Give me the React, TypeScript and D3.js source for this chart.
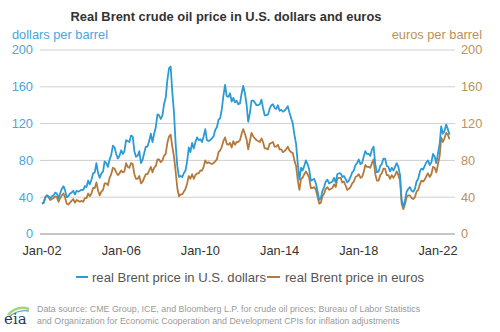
import React from "react";
import * as d3 from "d3";

const title = "Real Brent crude oil price in U.S. dollars and euros";
const leftAxisTitle = "dollars per barrel";
const rightAxisTitle = "euros per barrel";
const yTicks = [0, 40, 80, 120, 160, 200];
const xTickYears = [2002, 2006, 2010, 2014, 2018, 2022];
const xTickLabels = ["Jan-02", "Jan-06", "Jan-10", "Jan-14", "Jan-18", "Jan-22"];
const seriesNames = ["real Brent price in U.S. dollars", "real Brent price in euros"];
const sourceLines = [
  "Data source: CME Group, ICE, and Bloomberg L.P. for crude oil prices; Bureau of Labor Statistics",
  "and Organization for Economic Cooperation and Development CPIs for inflation adjustments",
];

// monthly, Jan 2002 .. Aug 2022
const usd = [
  33, 34, 39, 42, 41, 39, 41, 42, 45, 44, 39, 44,
  49, 52, 48, 40, 41, 44, 45, 47, 43, 47, 46, 47,
  48, 48, 52, 51, 58, 54, 59, 66, 67, 77, 66, 61,
  66, 68, 79, 77, 73, 81, 86, 96, 94, 87, 82, 85,
  91, 87, 90, 102, 101, 100, 107, 106, 90, 84, 85, 90,
  77, 81, 88, 95, 95, 101, 109, 100, 109, 116, 130, 129,
  125, 129, 141, 148, 167, 180, 182, 154, 132, 98, 74, 62,
  63, 62, 66, 69, 79, 94, 89, 99, 93, 100, 105, 102,
  103, 100, 106, 114, 102, 101, 102, 104, 106, 113, 116, 124,
  126, 136, 150, 162, 150, 149, 153, 144, 148, 143, 145, 141,
  142, 153, 161, 153, 141, 122, 131, 145, 145, 143, 140, 140,
  141, 146, 137, 129, 129, 130, 136, 140, 141, 137, 136, 140,
  134, 135, 133, 134, 136, 139, 132, 126, 120, 108, 98, 77,
  59, 72, 69, 74, 80, 76, 70, 58, 59, 60, 55, 47,
  37, 39, 47, 51, 57, 59, 55, 56, 57, 61, 56, 65,
  66, 66, 62, 63, 60, 56, 58, 62, 67, 69, 75, 77,
  81, 76, 77, 84, 90, 87, 87, 85, 92, 95, 76, 67,
  68, 74, 76, 82, 82, 74, 73, 68, 72, 69, 73, 77,
  73, 64, 37, 30, 36, 46, 49, 51, 47, 46, 49, 57,
  60, 68, 71, 70, 74, 78, 80, 75, 78, 87, 84, 77,
  88, 98, 117, 109, 112, 119, 114, 108,
];

const eur = [
  33, 34, 40, 42, 40, 37, 38, 39, 41, 40, 35, 39,
  42, 44, 40, 33, 32, 34, 36, 38, 34, 37, 36, 35,
  36, 35, 39, 39, 44, 41, 44, 50, 50, 56, 47, 42,
  46, 48, 55, 55, 53, 61, 65, 72, 71, 67, 64, 66,
  69, 67, 68, 77, 73, 72, 77, 76, 65, 60, 60, 63,
  55, 57, 61, 65, 65, 69, 73, 67, 72, 74, 81, 81,
  78, 80, 85, 87, 99, 106, 108, 95, 84, 68, 50, 41,
  43, 43, 46, 49, 55, 63, 60, 65, 60, 64, 66, 66,
  69, 69, 73, 80, 77, 78, 77, 76, 77, 79, 81, 89,
  91, 95, 101, 105, 98, 97, 99, 94, 101, 97, 100, 100,
  102, 109, 114, 109, 103, 92, 101, 110, 106, 104, 102, 101,
  100, 104, 100, 93, 93, 92, 98, 99, 100, 95, 95, 97,
  92, 92, 89, 90, 92, 95, 91, 89, 88, 80, 74, 59,
  48, 60, 61, 65, 68, 65, 61, 50, 50, 51, 48, 41,
  33, 34, 41, 44, 49, 51, 48, 49, 50, 54, 51, 60,
  61, 61, 56, 57, 53, 48, 49, 51, 55, 57, 62, 63,
  65, 61, 62, 67, 75, 73, 73, 72, 77, 81, 65, 58,
  58, 64, 66, 71, 71, 64, 64, 60, 64, 61, 64, 68,
  64, 58, 33, 27, 32, 40, 42, 42, 39, 38, 40, 46,
  48, 54, 58, 57, 59, 63, 66, 62, 65, 73, 72, 67,
  76, 85, 105, 100, 104, 110, 108, 103,
];

const months = d3.timeMonth.range(new Date(2002, 0, 1), new Date(2022, 8, 1));

const BLUE = "#2d9ad6";
const BROWN = "#b47a3c";
const BLUE_TXT = "#4aa6da";
const BROWN_TXT = "#b8925f";
const FONT = "'Liberation Sans', Arial, sans-serif";

export default function App() {
  const W = 500, H = 332;
  const x = d3.scaleTime().domain([new Date(2002, 0, 1), new Date(2022, 0, 1)]).range([42, 438]);
  const y = d3.scaleLinear().domain([0, 200]).range([234, 50]);
  const gridX0 = 40, gridX1 = 455;

  const line = d3.line<number>()
    .x((_, i) => x(months[i]))
    .y((d) => y(d))
    .curve(d3.curveLinear);

  return (
    <svg width={W} height={H} style={{ position: "absolute", left: 0, top: 0, background: "#fff" }} fontFamily={FONT}>
      <text x={226} y={21} textAnchor="middle" fontSize={12.9} fontWeight="bold" fill="#333">{title}</text>
      <text x={12} y={39} fontSize={12.8} fill={BLUE_TXT}>{leftAxisTitle}</text>
      <text x={482} y={39} textAnchor="end" fontSize={12.8} fill={BROWN_TXT}>{rightAxisTitle}</text>

      {yTicks.map((t) => (
        <g key={t}>
          <line x1={gridX0} x2={gridX1} y1={y(t)} y2={y(t)} stroke={t === 0 ? "#8c8c8c" : "#cfcfcf"} strokeWidth={1} />
          <text x={33} y={y(t)} dy="0.35em" textAnchor="end" fontSize={12.8} fill={BLUE_TXT}>{t}</text>
          <text x={461} y={y(t)} dy="0.35em" textAnchor="start" fontSize={12.8} fill={BROWN_TXT}>{t}</text>
        </g>
      ))}

      {xTickYears.map((yr, i) => (
        <text key={yr} x={x(new Date(yr, 0, 1))} y={255} textAnchor="middle" fontSize={12.8} fill="#333">{xTickLabels[i]}</text>
      ))}

      <path d={line(eur) || ""} fill="none" stroke={BROWN} strokeWidth={1.8} strokeLinejoin="round" />
      <path d={line(usd) || ""} fill="none" stroke={BLUE} strokeWidth={1.8} strokeLinejoin="round" />

      <g fontSize={13.1} fill="#555">
        <line x1={76} x2={88} y1={277} y2={277} stroke={BLUE} strokeWidth={2} />
        <text x={92} y={281.5}>{seriesNames[0]}</text>
        <line x1={267} x2={280} y1={277} y2={277} stroke={BROWN} strokeWidth={2} />
        <text x={285} y={281.5}>{seriesNames[1]}</text>
      </g>

      <g>
        <path d="M8,315 Q17,305 29,309" fill="none" stroke="#a9d37a" strokeWidth={2.5} />
        <path d="M9,317 Q18,309 29,311" fill="none" stroke="#5fa9d6" strokeWidth={1.4} />
        <text x={4} y={324} fontSize={15} fontFamily="'DejaVu Serif', serif" fill="#1f3b57">eia</text>
      </g>
      <g fontSize={8.9} fill="#9a9a9a">
        <text x={37} y={311.5}>{sourceLines[0]}</text>
        <text x={37} y={323.5}>{sourceLines[1]}</text>
      </g>
    </svg>
  );
}
